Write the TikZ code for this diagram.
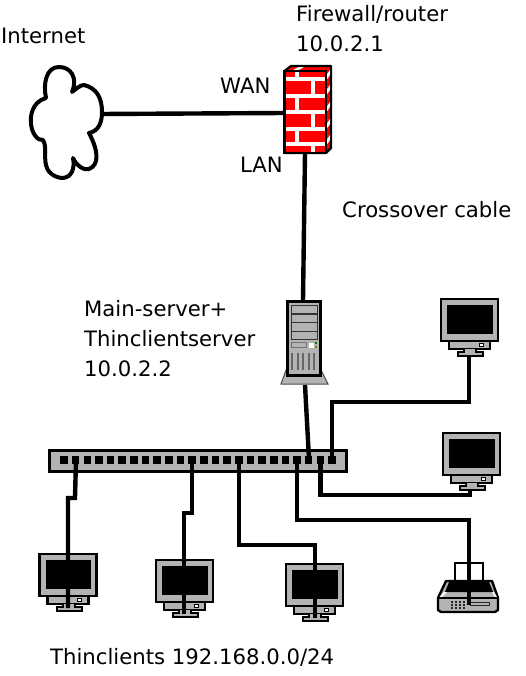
\documentclass[tikz,border=0pt]{standalone}
\usepackage{fontspec}
\setmainfont{DejaVu Sans}
\definecolor{devgray}{HTML}{B3B3B3}
\definecolor{fwred}{HTML}{FF0000}
\tikzset{
  cable/.style={line width=4.4pt,line join=miter,black},
  label/.style={anchor=base west,inner sep=0pt,font=\fontsize{21.2}{24}\selectfont},
  monitor/.pic={
    \draw[black,fill=devgray,line width=2.2pt] (8,42) rectangle (49,50);
    \draw[black,fill=devgray,line width=2pt] (23,50) -- (23,53) -- (17,53) -- (17,57) -- (42,57) -- (42,53) -- (35,53) -- (35,50);
    \draw[black,fill=devgray,line width=2.4pt] (0,0) rectangle (57,42);
    \fill[black] (6,6) rectangle (51.5,34.5);
    \draw[black,fill=white,line width=1pt] (38,44) rectangle (42,47.5);
  }
}
\begin{document}
\begin{tikzpicture}[x=1pt,y=-1pt]
\useasboundingbox (0,0) rectangle (525,676);
\fill[white] (0,0) rectangle (525,676);

% cloud
\draw[black,fill=white,line width=4pt,line join=round] (72,92)
  .. controls (78,78) and (71,67) .. (59,67)
  .. controls (46,67) and (43,84) .. (46,98)
  .. controls (32,102) and (30,116) .. (31,124)
  .. controls (32,134) and (38,141) .. (43,140)
  .. controls (47,146) and (44,158) .. (46,165)
  .. controls (48,175) and (58,178) .. (63,178)
  .. controls (72,177) and (75,168) .. (73,158)
  .. controls (76,165) and (84,171) .. (89,169)
  .. controls (99,165) and (99,152) .. (89,133)
  .. controls (99,131) and (102,122) .. (102,112)
  .. controls (102,97) and (96,88) .. (84,85)
  .. controls (80,85) and (76,89) .. (72,92) -- cycle;

% firewall
\draw[black,fill=fwred,line width=2.2pt,line join=round] (284.5,71) -- (291,66) -- (331,66) -- (331,148) -- (326,153) -- (284.5,153) -- cycle;
\fill[white] (298,67.2) -- (303.5,67.2) -- (299,70) -- (293.5,70) -- cycle;
\foreach \yy in {74,89,106,123,139} \fill[white] (327.2,\yy) -- (330,\yy-4) -- (330,\yy+1) -- (327.2,\yy+5) -- cycle;
\draw[black,fill=fwred,line width=2.4pt] (284.5,71) rectangle (326,153);
\begin{scope}[white,line width=3.2pt]
  \draw (285.7,79) -- (324.8,79);
  \draw (285.7,96) -- (324.8,96);
  \draw (285.7,112) -- (324.8,112);
  \draw (285.7,129) -- (324.8,129);
  \draw (285.7,144) -- (324.8,144);
  \draw (297,72.2) -- (297,79);
  \draw (313,79) -- (313,96);
  \draw (297,96) -- (297,112);
  \draw (313,112) -- (313,129);
  \draw (297,129) -- (297,144);
  \draw (313,144) -- (313,151.8);
\end{scope}

% server
\draw[black!70,fill=devgray,line width=1pt] (286,370) -- (321,370) -- (328,384) -- (281,384) -- cycle;
\draw[black,fill=devgray,line width=3pt] (287.5,301.5) rectangle (320.5,375);
\foreach \yy in {305,314,322.5,331} \draw[black!80,line width=1pt] (291,\yy) rectangle (317,\yy+8.5);
\draw[black!55,line width=.9pt] (291,342) rectangle (306,347.5);
\fill[white] (309,342.5) rectangle (313.5,347.5);
\fill[green!50!black] (314.5,342) rectangle (316.5,344);
\fill[olive] (314.5,345.5) rectangle (316.5,347.5);
\foreach \xx in {292,298,303,309,314} \draw[black!60,line width=1.1pt] (\xx,353) -- (\xx,370);

% monitors
\pic at (39.5,554) {monitor};
\pic at (156,560) {monitor};
\pic at (286,564) {monitor};
\pic at (441,299) {monitor};
\pic at (443,433) {monitor};

% printer
\draw[black,fill=white,line width=2.4pt] (455,563) rectangle (483,585);
\draw[black,fill=devgray,line width=2.4pt,line join=round] (446,581) -- (492,581) -- (498,598) -- (498,610) -- (495,612) -- (441,612) -- (438,610) -- (438,598) -- cycle;
\fill[black] (449,582) -- (489,582) -- (493,592) -- (445,592) -- cycle;
\fill[white] (444,592) -- (447,592) -- (442,597) -- (439.5,597) -- cycle;
\fill[white] (492,592) -- (494,592) -- (497,597) -- (495,597) -- cycle;
\draw[black,line width=1.8pt] (438,598) -- (498,598);
\foreach \xx in {451,455,459,463} \foreach \yy in {601,604,607} \fill[black!85] (\xx,\yy) rectangle (\xx+2,\yy+2);
\draw[black!85,line width=1pt] (470,602) rectangle (489,605.5);

% switch
\draw[black,fill=devgray,line width=3pt] (49.5,450) rectangle (346,471);
\foreach \ii in {0,...,23} \fill[black] (64+11.65*\ii-3.8,456) rectangle (64+11.65*\ii+3.8,464);

% anchors
\coordinate (wanA) at (101,114);
\coordinate (wanB) at (285,113);
\coordinate (lanA) at (305,153);
\coordinate (lanB) at (303,300);
\coordinate (srvA) at (305,385);
\coordinate (srvB) at (309,459);
\coordinate (p1) at (76,459);
\coordinate (p2) at (192,459);
\coordinate (p3) at (239,459);
\coordinate (p4) at (297,459);
\coordinate (p5) at (320.5,459);
\coordinate (p6) at (332,459);
\coordinate (m1) at (68,608);
\coordinate (m2) at (184,614);
\coordinate (m3) at (315,618);
\coordinate (m4) at (469,357);
\coordinate (m5) at (470,491);
\coordinate (pr) at (469,605);

% cables
\draw[cable] (wanA) -- (wanB);
\draw[cable] (lanA) -- (lanB);
\draw[cable] (srvA) -- (srvB);
\draw[cable] (p1) -- (75,498) -- (68,498) -- (m1);
\draw[cable] (p2) -- (192,513) -- (184,513) -- (m2);
\draw[cable] (p3) -- (239,545) -- (315,545) -- (m3);
\draw[cable] (p4) -- (297,520) -- (469,520) -- (pr);
\draw[cable] (p5) -- (320.5,495) -- (470,495) -- (m5);
\draw[cable] (p6) -- (332,402) -- (469,402) -- (m4);

% labels
\node[label] (tInternet) at (1,43.5) {Internet};
\node[label] (tFw) at (296,21.5) {Firewall/router};
\node[label] (tFwIp) at (296,51.5) {10.0.2.1};
\node[label] (tWan) at (220,93.5) {WAN};
\node[label] (tLan) at (240,172.5) {LAN};
\node[label] (tCross) at (342,218) {Crossover cable};
\node[label] (tMain) at (84,316) {Main-server+};
\node[label] (tThin) at (84,346) {Thinclientserver};
\node[label] (tMainIp) at (84,376) {10.0.2.2};
\node[label] (tClients) at (50,664) {Thinclients 192.168.0.0/24};
\end{tikzpicture}
\end{document}
